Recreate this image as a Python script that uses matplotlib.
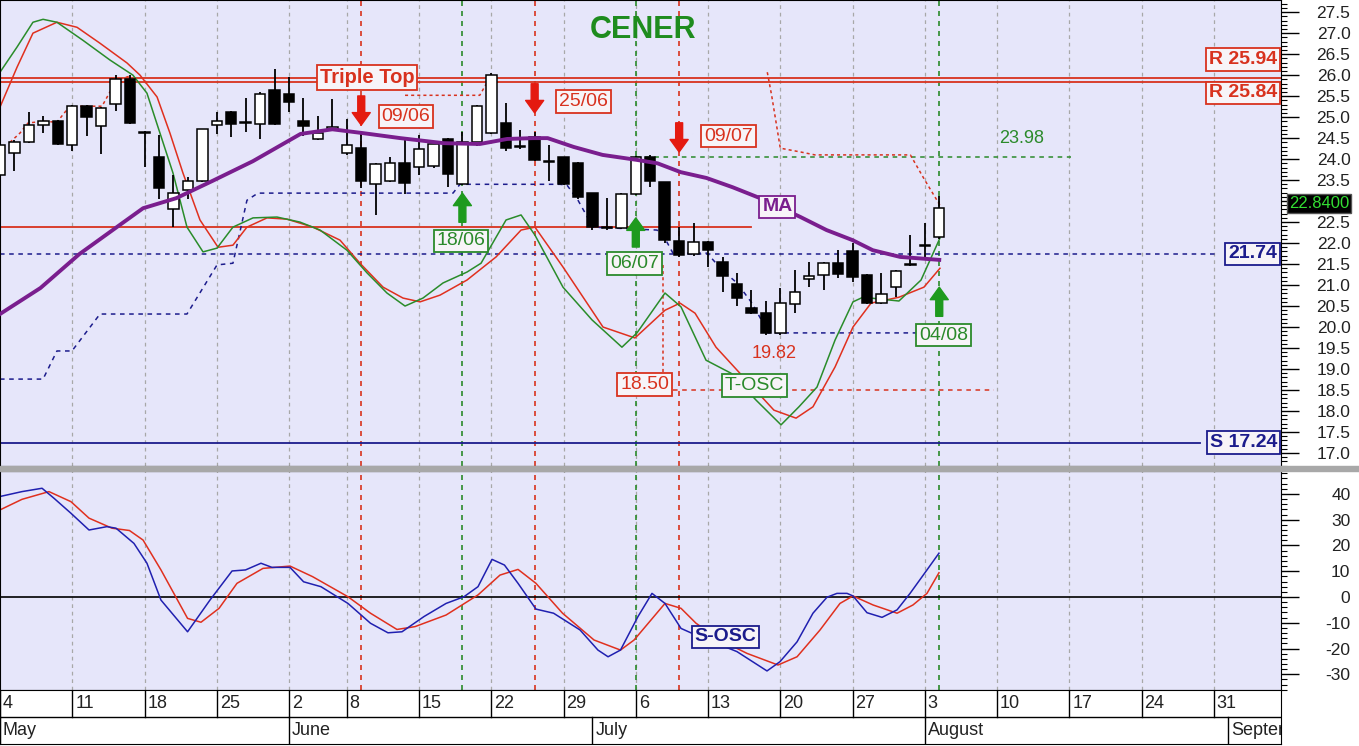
import numpy as np
import matplotlib.pyplot as plt
from matplotlib.patches import Rectangle
from matplotlib.ticker import MultipleLocator, FuncFormatter

plt.rcParams['font.family'] = ['Liberation Sans', 'DejaVu Sans']
plt.rcParams['axes.unicode_minus'] = False

# daily candles, trading-day index 0 = 4 May ... 65 = 4 Aug
opens = [23.62, 24.14, 24.40, 24.81, 24.90, 24.33, 25.26, 24.79, 25.31, 25.90,
         24.64, 24.05, 22.81, 23.26, 23.48, 24.81, 25.12, 24.88, 24.83, 25.64,
         25.55, 24.90, 24.48, 24.69, 24.14, 24.26, 23.40, 23.48, 23.90, 23.81,
         23.83, 24.48, 23.40, 24.40, 24.62, 24.86, 24.30, 24.52, 23.94, 24.05,
         23.90, 23.19, 22.38, 22.36, 23.17, 24.05, 23.45, 22.05, 21.74, 22.02,
         21.55, 21.02, 20.45, 20.33, 19.86, 20.55, 21.14, 21.24, 21.52, 21.81,
         21.24, 20.57, 20.95, 21.48, 21.93, 22.14]
highs = [24.74, 24.45, 25.12, 25.02, 24.93, 25.28, 25.28, 25.25, 26.00, 26.00,
         24.66, 24.57, 23.62, 23.57, 24.71, 25.12, 25.14, 25.45, 25.60, 26.14,
         25.95, 25.45, 25.02, 25.43, 24.95, 24.64, 23.90, 24.05, 24.50, 24.57,
         24.36, 24.50, 24.64, 25.28, 26.05, 25.33, 24.69, 24.64, 24.33, 24.05,
         23.92, 23.20, 23.07, 23.20, 24.07, 24.10, 23.45, 22.38, 22.48, 22.05,
         21.67, 21.29, 20.88, 20.62, 20.93, 21.36, 21.55, 21.55, 21.83, 22.00,
         21.26, 21.29, 21.35, 22.19, 22.48, 23.12]
lows = [23.60, 23.71, 24.38, 24.62, 24.33, 24.19, 24.55, 24.12, 25.14, 24.84,
        23.81, 23.05, 22.38, 23.05, 23.45, 24.60, 24.52, 24.64, 24.48, 24.81,
        25.12, 24.55, 24.45, 24.67, 24.10, 23.31, 22.67, 23.45, 23.17, 23.62,
        23.80, 23.33, 23.38, 24.31, 24.60, 24.19, 24.24, 23.95, 23.48, 23.38,
        23.05, 22.30, 22.30, 22.33, 23.15, 23.33, 22.00, 21.67, 21.70, 21.43,
        20.83, 20.50, 20.30, 19.82, 19.82, 20.33, 20.95, 20.88, 21.17, 21.07,
        20.55, 20.55, 20.71, 21.45, 21.60, 22.10]
closes = [24.33, 24.40, 24.81, 24.90, 24.36, 25.26, 25.00, 25.21, 25.90, 24.86,
          24.62, 23.31, 23.19, 23.48, 24.71, 24.90, 24.83, 24.85, 25.55, 24.83,
          25.36, 24.79, 24.62, 24.76, 24.33, 23.48, 23.88, 23.90, 23.43, 24.24,
          24.36, 23.64, 24.40, 25.26, 26.00, 24.26, 24.28, 23.98, 23.92, 23.40,
          23.10, 22.38, 22.36, 23.17, 24.05, 23.48, 22.07, 21.71, 22.02, 21.83,
          21.21, 20.69, 20.33, 19.86, 20.57, 20.83, 21.21, 21.52, 21.26, 21.19,
          20.57, 20.79, 21.33, 21.51, 21.96, 22.84]

# moving average
ma_x = [0, 2.8, 5.5, 8.0, 9.9, 12.2, 14.7, 17.5, 20.8, 23.0, 25.1, 27.7, 30.7, 33.2,
        35.1, 36.9, 37.9, 39.7, 41.7, 44.1, 45.5, 47.1, 48.9, 50.7, 52.6, 55.4,
        57.2, 59.0, 60.4, 62.3, 65.0]
ma_y = [20.31, 20.93, 21.74, 22.36, 22.83, 23.07, 23.48, 23.95, 24.60, 24.71, 24.62,
        24.50, 24.38, 24.36, 24.48, 24.50, 24.50, 24.29, 24.10, 23.98, 23.90, 23.69,
        23.55, 23.33, 23.07, 22.62, 22.31, 22.07, 21.83, 21.67, 21.60]

# T-OSC overlay (fast green / slow red)
tosc_fast_x = [0, 1.18, 2.28, 2.98, 3.94, 5.74, 7.61, 9.20, 10.17, 11.07, 11.97, 12.94,
               14.05, 15.02, 16.12, 17.51, 19.17, 20.76, 22.15, 24.01, 25.40, 26.78,
               28.03, 29.27, 30.66, 32.32, 33.29, 35.02, 36.06, 37.02, 38.96, 40.97,
               43.04, 44.08, 46.02, 47.13, 48.86, 50.59, 52.32, 54.05, 55.29, 56.54,
               57.79, 59.03, 59.72, 62.21, 63.74, 65.05]
tosc_fast_y = [26.07, 26.67, 27.26, 27.33, 27.26, 26.83, 26.36, 26.00, 25.57, 24.62,
               23.67, 22.38, 21.79, 21.88, 22.38, 22.60, 22.62, 22.50, 22.31, 21.83,
               21.29, 20.81, 20.50, 20.69, 21.05, 21.31, 21.52, 22.55, 22.67, 22.19,
               20.95, 20.17, 19.52, 19.86, 20.81, 20.48, 19.21, 18.90, 18.26, 17.67,
               18.10, 18.57, 19.69, 20.60, 20.71, 20.62, 21.12, 22.12]
tosc_slow_x = [0, 1.18, 2.28, 3.94, 5.33, 6.92, 8.79, 9.69, 10.87, 11.76, 12.66, 13.84,
               15.09, 16.12, 17.09, 18.48, 19.86, 21.66, 23.53, 24.91, 26.51, 27.89,
               29.07, 30.45, 32.32, 34.33, 36.06, 37.02, 38.96, 41.73, 43.94, 46.02,
               47.06, 48.10, 49.55, 51.63, 53.56, 55.09, 56.26, 57.79, 59.03, 60.28,
               62.21, 63.94, 65.05]
tosc_slow_y = [25.24, 26.19, 27.00, 27.26, 27.14, 26.76, 26.29, 26.00, 25.48, 24.62,
               23.67, 22.55, 21.90, 21.95, 22.38, 22.60, 22.57, 22.38, 22.07, 21.52,
               20.95, 20.69, 20.60, 20.76, 21.12, 21.67, 22.31, 22.38, 21.43, 20.00,
               19.74, 20.40, 20.57, 20.33, 19.52, 18.74, 18.02, 17.83, 18.10, 19.05,
               20.00, 20.57, 20.71, 20.95, 21.40]

# trailing stops
stop_lo_x = [0, 2.98, 3.94, 4.98, 6.92, 12.94, 15.02, 16.12, 17.09, 17.85, 31.35, 31.83,
             38.75, 39.24, 40.0, 41.04, 45.47, 46.16, 46.57, 48.93, 49.97, 51.0, 52.04,
             52.8, 53.15, 63.9]
stop_lo_y = [18.76, 18.76, 19.43, 19.43, 20.31, 20.31, 21.48, 21.52, 23.02, 23.19, 23.19,
             23.40, 23.40, 23.38, 23.02, 22.38, 22.31, 22.02, 21.76, 21.76, 21.36, 21.05,
             20.57, 20.10, 19.86, 19.86]
stop_hi_a_x = [0.69, 1.38, 1.94, 2.98, 3.94, 4.71, 5.67, 7.06, 7.61, 8.10, 9.0]
stop_hi_a_y = [24.40, 24.62, 24.86, 24.90, 24.88, 25.21, 25.26, 25.26, 25.60, 25.88, 25.98]
stop_hi_b_x = [28.03, 33.2, 34.0]
stop_hi_b_y = [25.52, 25.52, 26.0]
stop_hi_c_x = [53.1, 53.4, 54.0, 55.4, 56.4, 63.0, 64.0, 65.05]
stop_hi_c_y = [26.07, 25.52, 24.26, 24.17, 24.10, 24.10, 23.50, 22.90]

# S-OSC lower panel
sosc_blue_x = [0, 1.52, 2.91, 3.74, 4.91, 6.16, 7.40, 8.03, 9.27, 10.17, 11.14, 12.98,
               14.53, 16.06, 16.99, 18.06, 18.82, 20.07, 21.01, 22.21, 24.08, 25.64,
               26.85, 27.82, 29.34, 30.87, 32.11, 33.08, 34.05, 34.91, 35.85, 37.09,
               38.31, 40.14, 41.38, 42.08, 42.94, 44.15, 45.12, 46.02, 47.13, 48.17,
               51.0, 53.08, 53.98, 55.16, 56.26, 57.23, 57.92, 58.62, 59.03, 60.0,
               61.04, 62.08, 62.98, 64.15, 64.98]
sosc_blue_y = [39.0, 40.9, 42.2, 38.3, 32.5, 26.0, 27.3, 26.7, 20.8, 13.1, -1.2, -13.5,
               -1.2, 10.1, 10.5, 13.1, 11.5, 11.5, 5.9, 4.0, -2.5, -10.2, -13.9, -13.5,
               -7.6, -2.5, 0.1, 4.0, 14.6, 12.4, 5.3, -4.7, -6.3, -12.8, -20.6, -23.2,
               -20.6, -7.6, 1.4, -2.5, -12.2, -14.8, -21.2, -28.7, -25.1, -17.4, -6.3,
               -0.1, 1.4, 1.4, 0.4, -6.1, -7.9, -5.0, 1.4, 10.5, 17.0]
sosc_red_x = [0, 1.52, 3.39, 4.91, 6.16, 7.75, 8.96, 9.90, 11.14, 12.98, 13.91, 15.16,
              16.40, 18.20, 20.07, 21.63, 24.08, 25.64, 27.47, 28.72, 30.87, 33.08,
              34.60, 35.85, 37.09, 38.93, 41.11, 42.94, 43.88, 46.02, 47.13, 48.17,
              49.83, 51.70, 53.84, 55.16, 56.75, 58.13, 59.03, 60.42, 62.08, 63.18,
              64.15, 64.98]
sosc_red_y = [33.8, 37.9, 40.9, 37.0, 30.6, 26.7, 25.8, 22.1, 10.5, -8.3, -9.8, -4.4,
              5.3, 11.1, 12.0, 7.9, 0.1, -6.3, -12.6, -11.5, -7.0, 0.8, 8.5, 10.7, 5.3,
              -6.3, -16.7, -20.6, -16.7, -2.5, -4.4, -10.2, -16.7, -21.9, -26.4, -23.2,
              -12.8, -2.5, 0.4, -3.1, -6.3, -3.1, 1.4, 9.4]

# signals
sell_idx = [25, 37, 47]
sell_tip = [24.81, 25.10, 24.17]
sell_text = ['09/06', '25/06', '09/07']
sell_text_pos = [(28.1, 25.02), (40.4, 25.38), (50.4, 24.55)]
buy_idx = [32, 44, 65]
buy_tip = [23.19, 22.60, 20.95]
buy_text = ['18/06', '06/07', '04/08']
buy_text_pos = [(31.9, 22.05), (43.9, 21.52), (65.3, 19.81)]

res_levels = [25.94, 25.84]
sup_level = 17.24
mid_level = 21.74
neck_level = 22.38
target_level = 24.04
measure_level = 18.50
last_price = 22.84

week_idx = [0, 5, 10, 15, 20, 24, 29, 34, 39, 44, 49, 54, 59, 64, 69, 74, 79, 84]
week_lbl = ['4', '11', '18', '25', '2', '8', '15', '22', '29', '6', '13', '20', '27',
            '3', '10', '17', '24', '31']
month_idx = [0, 20, 41, 64, 85]
month_lbl = ['May', 'June', 'July', 'August', 'September']

W, H = 1359, 746
BG = '#e6e6fa'
RED = '#d8321e'
GREEN = '#2b8a2b'
NAVY = '#1c1c8c'
PURPLE = '#7a1e8e'
XMAX = 1281 / 14.45

fig = plt.figure(figsize=(W / 100, H / 100), dpi=100, facecolor='white')
ax = fig.add_axes([0, 1 - 466 / H, 1281 / W, 466 / H], facecolor=BG)
ax2 = fig.add_axes([0, 1 - 690 / H, 1281 / W, 219 / H], facecolor=BG)
axd = fig.add_axes([0, 2 / H, 1281 / W, 54 / H], facecolor='white')
fig.add_artist(Rectangle((0, 1 - 471 / H), 1, 5 / H, transform=fig.transFigure,
                         color='#a8a8a8', zorder=10))

for a in (ax, ax2):
    a.set_xlim(0, XMAX)
    a.set_xticks([])
    for w in week_idx[1:]:
        a.axvline(w, color='#a8a8a8', lw=0.9, ls=(0, (3, 3)), zorder=0.5)
    for i in sell_idx:
        a.axvline(i, color=RED, lw=1.2, ls=(0, (3, 3)), zorder=1)
    for i in buy_idx:
        a.axvline(i, color=GREEN, lw=1.2, ls=(0, (3, 3)), zorder=1)
    a.yaxis.tick_right()
    a.tick_params(axis='y', which='major', length=13, width=1, pad=37,
                  labelsize=12.5, labelcolor='#222222')
    a.tick_params(axis='y', which='minor', length=4, width=0.8)
    for s in a.spines.values():
        s.set_color('black')

# ---- main price panel
ax.set_ylim(16.69, 27.79)
ax.yaxis.set_major_locator(MultipleLocator(0.5))
ax.yaxis.set_minor_locator(MultipleLocator(0.1))
# the 23.0 label sits under the last-price flag, as in the source chart
ax.yaxis.set_major_formatter(FuncFormatter(
    lambda v, p: '' if abs(v - 23.0) < 1e-6 else f'{v:.1f}'))

for lv in res_levels:
    ax.axhline(lv, color=RED, lw=1.3, zorder=1)
ax.axhline(sup_level, color=NAVY, lw=1.3, xmax=1200 / 1281, zorder=1)
ax.axhline(mid_level, color=NAVY, lw=1.1, ls=(0, (3, 3)), xmax=1218 / 1281, zorder=1)
ax.plot([0, 52], [neck_level, neck_level], color=RED, lw=1.3, zorder=1)
ax.plot([44, 74.1], [target_level, target_level], color=GREEN, lw=1.1, ls=(0, (3, 3)), zorder=1)
ax.plot([46.6, 68.8], [measure_level, measure_level], color=RED, lw=1.1, ls=(0, (3, 3)), zorder=1)
ax.plot([45.9, 45.9], [21.48, measure_level], color=RED, lw=1.1, ls=(0, (2, 2)), zorder=1)

ax.plot(stop_lo_x, stop_lo_y, color=NAVY, lw=1.1, ls=(0, (3, 3)), zorder=2)
for sx, sy in ((stop_hi_a_x, stop_hi_a_y), (stop_hi_b_x, stop_hi_b_y), (stop_hi_c_x, stop_hi_c_y)):
    ax.plot(sx, sy, color=RED, lw=1.1, ls=(0, (2, 2)), zorder=2)

ax.plot(tosc_slow_x, tosc_slow_y, color='#e0301e', lw=1.1, zorder=2)
ax.plot(tosc_fast_x, tosc_fast_y, color='#2a8c2a', lw=1.1, zorder=2)

idx = np.arange(len(opens))
o, h, l, c = map(np.array, (opens, highs, lows, closes))
ax.vlines(idx, l, h, color='black', lw=1.3, zorder=3)
body_lo = np.minimum(o, c)
body_h = np.maximum(np.abs(c - o), 0.03)
ax.bar(idx, body_h, bottom=body_lo, width=0.72,
       color=np.where(c >= o, 'white', 'black'), edgecolor='black', lw=1.1, zorder=3.5)

ax.plot(ma_x, ma_y, color=PURPLE, lw=2.8, zorder=4)


def tag(a, x, y, s, col, bold=False, size=14):
    a.text(x, y, s, color=col, fontsize=size, fontweight='bold' if bold else 'normal',
           ha='center', va='center', zorder=7,
           bbox=dict(boxstyle='square,pad=0.15', fc='#f7f4f8', ec=col, lw=1.3))


for i, tip, s, (tx, ty) in zip(sell_idx, sell_tip, sell_text, sell_text_pos):
    ax.annotate('', xy=(i, tip), xytext=(0, 21), textcoords='offset points', zorder=6,
                arrowprops=dict(arrowstyle='simple,head_length=0.45,head_width=0.65,tail_width=0.25',
                                color='#e41a10', mutation_scale=20, shrinkA=0, shrinkB=0))
    tag(ax, tx, ty, s, RED)
for i, tip, s, (tx, ty) in zip(buy_idx, buy_tip, buy_text, buy_text_pos):
    ax.annotate('', xy=(i, tip), xytext=(0, -21), textcoords='offset points', zorder=6,
                arrowprops=dict(arrowstyle='simple,head_length=0.45,head_width=0.65,tail_width=0.25',
                                color='#1e9a1e', mutation_scale=20, shrinkA=0, shrinkB=0))
    tag(ax, tx, ty, s, GREEN)

tag(ax, 25.4, 25.95, 'Triple Top', RED, bold=True, size=14.5)
tag(ax, 53.8, 22.86, 'MA', PURPLE, bold=True)
tag(ax, 52.2, 18.60, 'T-OSC', GREEN)
tag(ax, 44.6, 18.64, '18.50', RED)
ax.text(53.6, 19.38, '19.82', color=RED, fontsize=13, ha='center', va='center', zorder=7)
ax.text(70.7, 24.48, '23.98', color=GREEN, fontsize=13, ha='center', va='center', zorder=7)
ax.text(0.502, 0.935, 'CENER', transform=ax.transAxes, color='#1e8c1e', fontsize=22,
        fontweight='bold', ha='center', va='center')

ytr = ax.get_yaxis_transform()
for lv, dy in zip(res_levels, (13, -8)):
    ax.annotate(f'R {lv:.2f}', xy=(0.997, lv), xycoords=ytr, xytext=(0, dy),
                textcoords='offset points', ha='right', va='center', color=RED,
                fontsize=14, fontweight='bold', zorder=7,
                bbox=dict(boxstyle='square,pad=0.15', fc='#f7f4f8', ec=RED, lw=1.3))
ax.annotate(f'{mid_level:.2f}', xy=(0.997, mid_level), xycoords=ytr, ha='right', va='center',
            color=NAVY, fontsize=14, fontweight='bold', zorder=7,
            bbox=dict(boxstyle='square,pad=0.15', fc='#f7f4f8', ec=NAVY, lw=1.3))
ax.annotate(f'S {sup_level:.2f}', xy=(0.997, sup_level), xycoords=ytr, ha='right', va='center',
            color=NAVY, fontsize=14, fontweight='bold', zorder=7,
            bbox=dict(boxstyle='square,pad=0.15', fc='#f7f4f8', ec=NAVY, lw=1.3))
ax.annotate(f'{last_price:.4f}', xy=(1.0063, last_price), xycoords=ytr, xytext=(0, 3),
            textcoords='offset points', ha='left', va='center', color='#33dd33',
            fontsize=12, zorder=8, annotation_clip=False,
            bbox=dict(boxstyle='square,pad=0.12', fc='black', ec='#555555', lw=1))

# ---- lower oscillator panel
ax2.set_ylim(-36.1, 48.9)
ax2.yaxis.set_major_locator(MultipleLocator(10))
ax2.yaxis.set_minor_locator(MultipleLocator(2))
ax2.axhline(0, color='black', lw=1.2, zorder=1)
ax2.plot(sosc_red_x, sosc_red_y, color='#e0301e', lw=1.1, zorder=2)
ax2.plot(sosc_blue_x, sosc_blue_y, color='#2020b0', lw=1.1, zorder=2)
tag(ax2, 50.2, -15.5, 'S-OSC', NAVY, bold=True)

for a in (ax, ax2):
    for t in a.get_yticklabels():
        t.set_horizontalalignment('right')

# ---- date strip
axd.set_xlim(0, XMAX)
axd.set_ylim(0, 2)
axd.set_xticks([])
axd.set_yticks([])
axd.axhline(1, color='black', lw=1)
for w, s in zip(week_idx, week_lbl):
    axd.plot([w, w], [1, 2], color='black', lw=1)
    axd.text(w + 0.2, 1.5, s, fontsize=13, ha='left', va='center', color='#222222')
for m, s in zip(month_idx, month_lbl):
    axd.plot([m, m], [0, 1], color='black', lw=1)
    axd.text(m + 0.2, 0.5, s, fontsize=13, ha='left', va='center', color='#222222', clip_on=True)
for s in axd.spines.values():
    s.set_color('black')

fig.savefig('out.png', dpi=100, facecolor='white')
